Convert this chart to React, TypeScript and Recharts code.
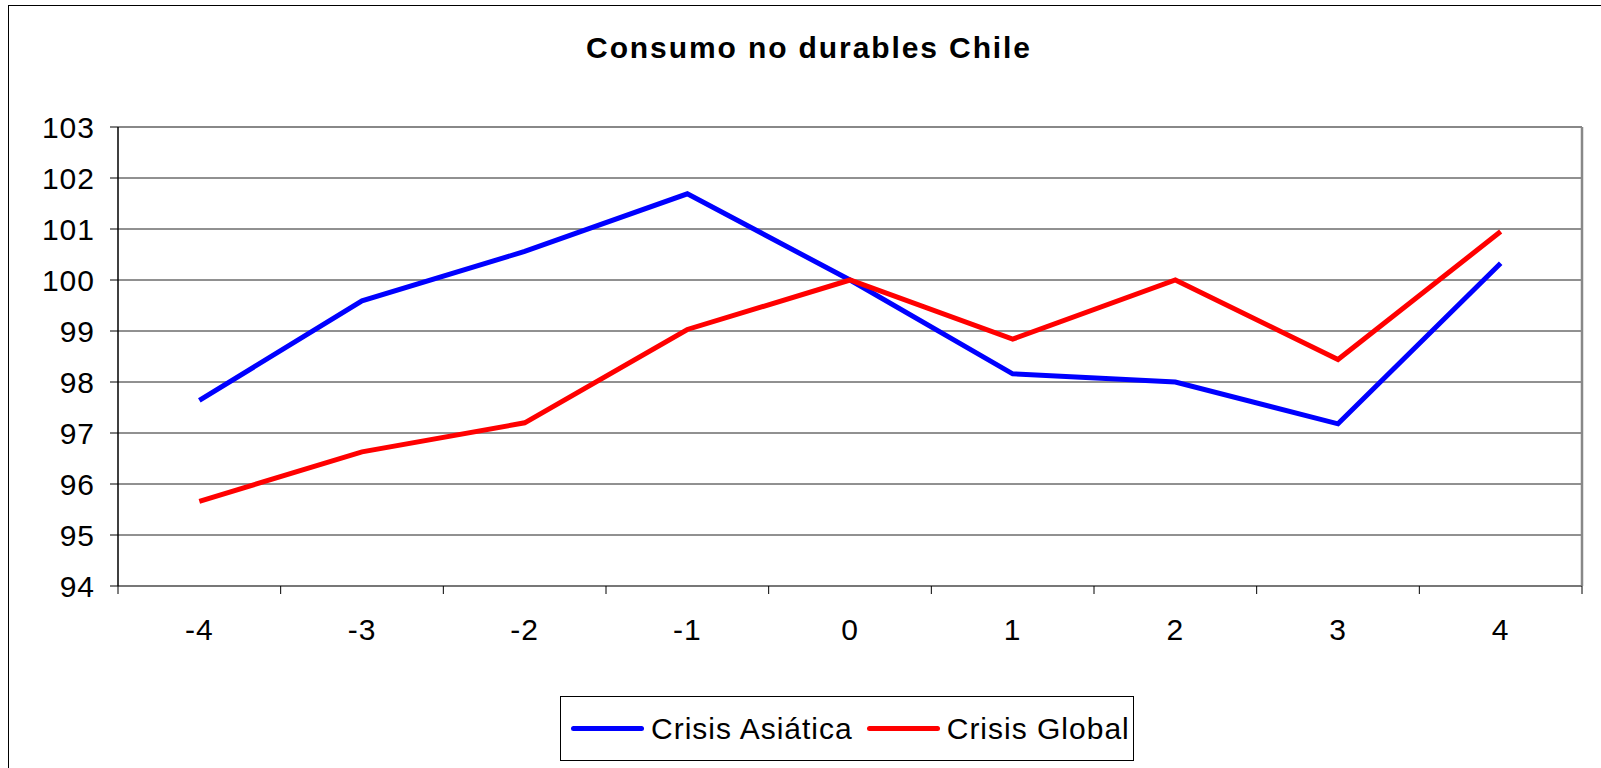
import { LineChart, Line, XAxis, YAxis, CartesianGrid, Legend, ReferenceLine } from "recharts";

const categories = [-4, -3, -2, -1, 0, 1, 2, 3, 4];
const crisisAsiatica = [97.64, 99.59, 100.56, 101.69, 100.0, 98.16, 98.0, 97.18, 100.33];
const crisisGlobal = [95.66, 96.63, 97.2, 99.03, 100.0, 98.84, 100.0, 98.44, 100.95];
const yTicks = [94, 95, 96, 97, 98, 99, 100, 101, 102, 103];

const data = categories.map((x, i) => ({
  x,
  asia: crisisAsiatica[i],
  global: crisisGlobal[i],
}));

// tick marks sit between categories, labels on the categories
const boundaries = [...categories.map((c) => c - 0.5), categories[categories.length - 1] + 0.5];
const xTicks = [...boundaries, ...categories].sort((a, b) => a - b);

const FONT = "Arial, 'Liberation Sans', sans-serif";

const XTick = (props: any) => {
  const { x, y, payload } = props;
  if (Number.isInteger(payload.value)) {
    return (
      <text x={x} y={y + 54} textAnchor="middle" fill="#000" fontSize={30} fontFamily={FONT} letterSpacing={1}>
        {payload.value}
      </text>
    );
  }
  return <line x1={x} y1={y} x2={x} y2={y + 8} stroke="#000" strokeWidth={1} />;
};

const LegendBox = (props: any) => {
  const items = props.payload || [];
  return (
    <div
      style={{
        position: "absolute",
        left: 0,
        top: 0,
        width: 574,
        height: 65,
        boxSizing: "border-box",
        border: "1.5px solid #000",
        background: "#fff",
        display: "flex",
        alignItems: "center",
        paddingLeft: 10,
        fontFamily: FONT,
        fontSize: 30,
        letterSpacing: 1,
        color: "#000",
        whiteSpace: "nowrap",
      }}
    >
      {items.map((it: any, i: number) => (
        <div key={i} style={{ display: "flex", alignItems: "center", marginRight: 14, flexShrink: 0 }}>
          <div style={{ width: 73, height: 5, borderRadius: 3, background: it.color, marginRight: 7 }} />
          <span>{it.value}</span>
        </div>
      ))}
    </div>
  );
};

const App = () => {
  return (
    <div style={{ position: "fixed", left: 0, top: 0, width: 1601, height: 768, overflow: "hidden", background: "#fff" }}>
      <div
        style={{
          position: "absolute",
          left: 8,
          top: 5,
          width: 1700,
          height: 900,
          borderLeft: "1.5px solid #000",
          borderTop: "1.5px solid #000",
        }}
      />
      <div
        style={{
          position: "absolute",
          left: 0,
          top: 33,
          width: 1618,
          textAlign: "center",
          fontFamily: FONT,
          fontWeight: "bold",
          fontSize: 30,
          lineHeight: 1,
          letterSpacing: 1.9,
          color: "#000",
        }}
      >
        Consumo no durables Chile
      </div>
      <LineChart
        width={1601}
        height={768}
        data={data}
        margin={{ top: 127, right: 19, left: 0, bottom: 122 }}
        style={{ position: "absolute", left: 0, top: 0 }}
      >
        <CartesianGrid vertical={false} stroke="#222" strokeWidth={1} />
        <XAxis
          dataKey="x"
          type="number"
          domain={[-4.5, 4.5]}
          ticks={xTicks}
          interval={0}
          tickLine={false}
          tickSize={0}
          tickMargin={0}
          height={60}
          axisLine={{ stroke: "#777", strokeWidth: 2 }}
          tick={<XTick />}
        />
        <YAxis
          type="number"
          domain={[94, 103]}
          ticks={yTicks}
          interval={0}
          width={118}
          tickSize={8}
          tickMargin={15}
          axisLine={{ stroke: "#000", strokeWidth: 1.5 }}
          tickLine={{ stroke: "#000" }}
          tick={{ fill: "#000", fontSize: 30, fontFamily: FONT, letterSpacing: 1 }}
        />
        <ReferenceLine y={103} stroke="#888" strokeWidth={2} />
        <ReferenceLine x={4.5} stroke="#888" strokeWidth={2.5} />
        <Line
          type="linear"
          dataKey="asia"
          name="Crisis Asiática"
          stroke="#0000FF"
          strokeWidth={5}
          dot={false}
          isAnimationActive={false}
        />
        <Line
          type="linear"
          dataKey="global"
          name="Crisis Global"
          stroke="#FF0000"
          strokeWidth={5}
          dot={false}
          isAnimationActive={false}
        />
        <Legend
          content={<LegendBox />}
          wrapperStyle={{ position: "absolute", left: 560, top: 696, width: 574, height: 0, overflow: "visible" }}
        />
      </LineChart>
    </div>
  );
};

export default App;
